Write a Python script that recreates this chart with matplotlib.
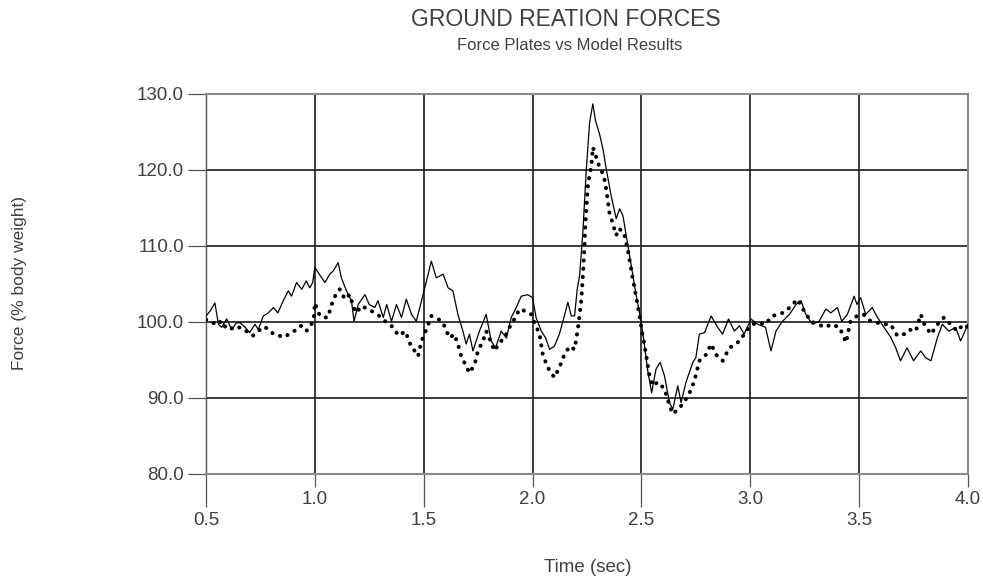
import matplotlib
matplotlib.use("Agg")
import matplotlib.pyplot as plt
import numpy as np

# ---- data ----
plate_t = [0.50, 0.518, 0.541, 0.557, 0.572, 0.595, 0.618, 0.64, 0.656, 0.68, 0.70, 0.725, 0.74, 0.763,
           0.786, 0.81, 0.83, 0.855, 0.878, 0.893, 0.916, 0.94, 0.96, 0.977, 0.99, 1.0, 1.02, 1.046,
           1.069, 1.084, 1.107, 1.122, 1.145, 1.168, 1.18, 1.199, 1.23, 1.25, 1.275, 1.29, 1.314, 1.33,
           1.352, 1.375, 1.398, 1.42, 1.444, 1.466, 1.49, 1.505, 1.535, 1.558, 1.589, 1.612, 1.634,
           1.657, 1.68, 1.695, 1.71, 1.726, 1.756, 1.787, 1.81, 1.83, 1.856, 1.88, 1.902, 1.925, 1.948,
           1.978, 2.0, 2.016, 2.04, 2.06, 2.078, 2.10, 2.123, 2.146, 2.162, 2.178, 2.193, 2.205, 2.216,
           2.231, 2.246, 2.262, 2.277, 2.289, 2.307, 2.323, 2.338, 2.361, 2.384, 2.40, 2.415, 2.43,
           2.453, 2.476, 2.499, 2.514, 2.53, 2.547, 2.567, 2.586, 2.606, 2.629, 2.644, 2.667, 2.682,
           2.705, 2.736, 2.75, 2.766, 2.79, 2.82, 2.85, 2.873, 2.90, 2.927, 2.95, 2.972, 3.003, 3.034,
           3.07, 3.095, 3.118, 3.148, 3.18, 3.21, 3.233, 3.255, 3.286, 3.316, 3.347, 3.37, 3.40, 3.42,
           3.446, 3.477, 3.49, 3.507, 3.53, 3.56, 3.584, 3.614, 3.645, 3.668, 3.69, 3.72, 3.75, 3.783,
           3.805, 3.83, 3.86, 3.882, 3.912, 3.943, 3.966, 4.0]
plate_f = [100.8, 101.4, 102.5, 99.7, 99.3, 100.4, 99.0, 99.9, 99.9, 99.3, 98.6, 99.7, 99.0, 100.8,
           101.2, 101.9, 101.2, 102.8, 104.1, 103.4, 105.2, 104.3, 105.4, 104.5, 105.2, 107.2, 106.3, 105.2,
           106.3, 106.7, 107.8, 105.8, 104.1, 102.8, 100.1, 102.3, 103.6, 102.3, 101.9, 102.8, 100.6, 102.3,
           100.1, 102.3, 100.6, 103.0, 101.0, 100.1, 102.8, 104.5, 108.0, 105.8, 106.3, 104.5, 104.1,
           101.0, 98.8, 97.1, 98.4, 96.2, 98.8, 101.0, 97.5, 96.6, 98.8, 97.9, 100.6, 101.9, 103.4,
           103.6, 103.2, 100.6, 98.8, 97.9, 96.4, 96.8, 98.4, 100.8, 102.6, 100.8, 100.8, 104.3, 106.1,
           111.8, 119.7, 126.3, 128.7, 126.5, 124.8, 122.8, 120.2, 116.6, 113.6, 114.9, 114.0, 111.4,
           107.4, 103.5, 100.0, 96.9, 93.4, 90.7, 93.8, 94.7, 92.9, 89.4, 88.5, 91.6, 89.4,
           92.1, 94.7, 95.3, 98.4, 98.6, 100.8, 99.3, 98.4, 100.4, 98.8, 99.5, 98.4, 100.4, 99.7,
           99.3, 96.2, 98.8, 100.1, 101.0, 102.3, 102.8, 101.0, 99.7, 100.1, 101.7, 101.2, 101.9, 100.1,
           101.0, 103.4, 102.3, 103.2, 101.0, 101.9, 100.6, 99.3, 98.0, 96.6, 94.9, 96.6, 94.9, 96.2,
           95.3, 94.9, 98.0, 99.7, 98.8, 99.3, 97.5, 99.7]

model_t = [0.50, 0.52, 0.54, 0.56, 0.58, 0.60, 0.625, 0.655, 0.685, 0.715, 0.74, 0.765, 0.79, 0.81,
           0.835, 0.86, 0.885, 0.91, 0.935, 0.96, 0.98, 0.995, 1.0, 1.02, 1.035, 1.06, 1.077, 1.10,
           1.115, 1.138, 1.16, 1.176, 1.19, 1.214, 1.245, 1.275, 1.306, 1.33, 1.352, 1.367, 1.39, 1.413,
           1.428, 1.444, 1.459, 1.474, 1.49, 1.512, 1.535, 1.566, 1.589, 1.604, 1.62, 1.64, 1.657,
           1.672, 1.695, 1.71, 1.734, 1.749, 1.772, 1.787, 1.81, 1.825, 1.848, 1.871, 1.894, 1.917,
           1.94, 1.97, 1.994, 2.009, 2.032, 2.047, 2.07, 2.10, 2.123, 2.146, 2.17, 2.193, 2.208, 2.223,
           2.234, 2.243, 2.254, 2.27, 2.277, 2.292, 2.307, 2.327, 2.338, 2.353, 2.369, 2.384, 2.396,
           2.419, 2.437, 2.46, 2.483, 2.506, 2.522, 2.537, 2.552, 2.575, 2.606, 2.629, 2.644, 2.667,
           2.69, 2.72, 2.743, 2.766, 2.797, 2.82, 2.843, 2.873, 2.904, 2.934, 2.957, 2.98, 3.01, 3.04,
           3.07, 3.10, 3.133, 3.163, 3.194, 3.217, 3.248, 3.278, 3.309, 3.347, 3.37, 3.41, 3.44, 3.46,
           3.49, 3.52, 3.553, 3.584, 3.614, 3.645, 3.675, 3.706, 3.73, 3.76, 3.783, 3.80, 3.83, 3.86,
           3.89, 3.92, 3.95, 3.98, 4.0]
model_f = [100.3, 100.0, 99.8, 100.2, 99.3, 99.6, 99.0, 99.3, 98.8, 98.2, 98.8, 99.4, 99.0, 98.4,
           98.2, 98.0, 98.5, 98.9, 99.5, 98.8, 99.4, 100.5, 102.5, 101.0, 100.6, 100.6, 102.3, 103.9,
           104.3, 103.0, 103.6, 102.1, 101.2, 102.1, 101.7, 101.2, 100.6, 99.9, 99.5, 98.8, 98.2, 98.8,
           97.9, 96.6, 96.2, 95.5, 97.5, 99.0, 100.8, 100.4, 99.9, 98.8, 97.9, 98.4, 97.1,
           95.5, 94.2, 93.3, 94.4, 96.2, 97.5, 98.8, 97.3, 96.2, 97.3, 97.9, 99.3, 100.4,
           101.7, 101.4, 101.0, 99.9, 98.4, 95.7, 94.0, 92.7, 94.0, 95.7, 96.8, 96.4, 99.1, 102.6,
           107.4, 113.1, 118.0, 120.6, 123.0, 121.7, 120.4, 119.3, 117.5, 114.4, 112.9, 111.4, 112.3,
           111.8, 109.6, 105.7, 102.2, 98.2, 95.6, 92.9, 91.6, 92.1, 91.2, 89.0, 87.9, 88.5,
           89.2, 90.6, 92.2, 94.9, 95.7, 97.1, 95.7, 94.9, 96.6, 97.1, 97.7, 98.8, 99.7, 99.9,
           99.7, 100.8, 101.0, 101.4, 102.3, 103.0, 101.4, 100.1, 99.7, 99.3, 99.7, 99.3, 97.3, 100.1,
           100.8, 101.0, 100.1, 99.9, 99.7, 99.7, 98.2, 98.4, 99.0, 98.8, 101.0, 99.7, 98.4, 99.7,
           100.6, 99.7, 98.8, 99.7, 99.3]

y_ticks = [80, 90, 100, 110, 120, 130]
x_upper_ticks = [1.0, 2.0, 3.0, 4.0]
x_lower_ticks = [0.5, 1.5, 2.5, 3.5]

# ---- figure ----
plt.rcParams['font.family'] = ['Liberation Sans', 'DejaVu Sans']
W, H = 983, 581
fig = plt.figure(figsize=(W / 100, H / 100), dpi=100)
ax = fig.add_axes([206 / W, 1 - 474 / H, 762 / W, 380 / H])

txt = '#404040'
ax.plot(plate_t, plate_f, color='black', lw=0.9, zorder=3)
ax.plot(model_t, model_f, color='black', lw=2.9, linestyle=(0, (0.05, 2.0)),
        dash_capstyle='round', zorder=4)

ax.set_xlim(0.5, 4.0)
ax.set_ylim(80, 130)

ax.set_yticks(y_ticks)
ax.set_yticklabels([f"{v:.1f}" for v in y_ticks])
ax.set_xticks(x_upper_ticks)
ax.set_xticklabels([f"{v:.1f}" for v in x_upper_ticks])
ax.set_xticks(x_lower_ticks, minor=True)
ax.set_xticklabels([f"{v:.1f}" for v in x_lower_ticks], minor=True)

fs = 13.5
ax.tick_params(axis='y', which='major', length=13, width=0.9, color='#555',
               labelsize=fs, labelcolor=txt, pad=3)
ax.tick_params(axis='x', which='major', length=9, width=0.9, color='#555',
               labelsize=fs, labelcolor=txt, pad=3)
ax.tick_params(axis='x', which='minor', length=23.5, width=0.9, color='#555',
               labelsize=fs, labelcolor=txt, pad=4)

ax.grid(True, which='both', color='#1a1a1a', lw=1.2, zorder=1)
ax.set_axisbelow(True)
for s in ax.spines.values():
    s.set_color('#8a8a8a')
    s.set_linewidth(1.5)
ax.spines['left'].set_color('#555555')
ax.spines['left'].set_linewidth(1.0)

fig.text(566 / W, 1 - 20 / H, "GROUND REATION FORCES", ha='center', va='center',
         fontsize=16.5, color=txt)
fig.text(570 / W, 1 - 46 / H, "Force Plates vs Model Results", ha='center', va='center',
         fontsize=12, color=txt)
fig.text(588 / W, 1 - 567 / H, "Time (sec)", ha='center', va='center', fontsize=13.5, color=txt)
fig.text(20 / W, 1 - 283 / H, "Force (% body weight)", ha='center', va='center',
         rotation=90, fontsize=12.5, color=txt)

fig.savefig("out.png", dpi=100)
